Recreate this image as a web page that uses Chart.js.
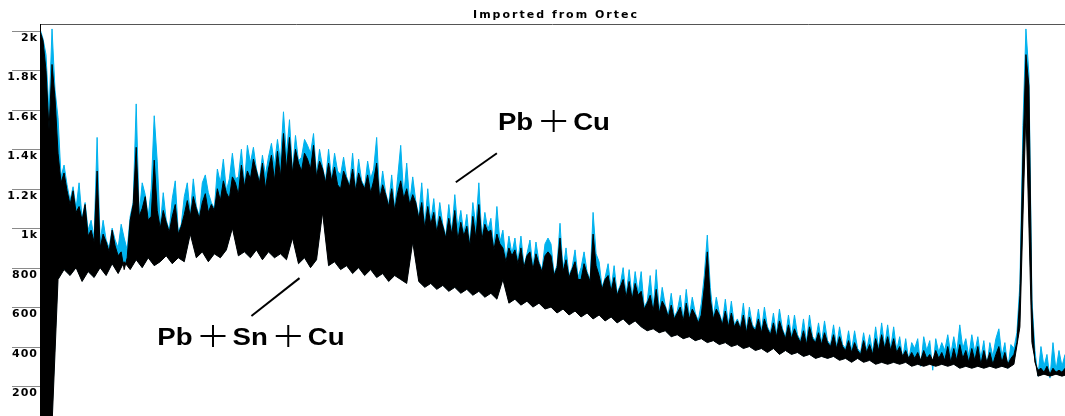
<!DOCTYPE html>
<html>
<head>
<meta charset="utf-8">
<title>Imported from Ortec</title>
<script src="https://cdn.jsdelivr.net/npm/chart.js@4.4.1/dist/chart.umd.min.js"></script>
<style>
  html, body { margin: 0; padding: 0; background: #fff; }
  #wrap { position: relative; width: 1065px; height: 416px; }
</style>
</head>
<body>
<div id="wrap"><canvas id="spectrum"></canvas></div>
<script>
// Spectrum values (counts).
// Top series are sampled every 3 channels, the lower edge of the black trace every 6.
const chartTitle = 'Imported from Ortec';

// Pb + Sn + Cu (black) - upper edge of the trace
const blackTop = [
  2000,1950,1800,1500,1830,1660,1380,1230,1280,1190,
  1120,1190,1080,1110,1040,1120,960,990,930,1290,
  900,970,930,880,990,910,860,880,790,850,
  1040,1120,1410,1060,1100,1160,1040,1060,1345,1090,
  1000,1090,1030,980,1060,1120,970,1010,1070,1140,
  1060,1160,1100,1050,1130,1175,1080,1120,1090,1200,
  1140,1240,1180,1150,1260,1230,1170,1320,1210,1290,
  1250,1350,1290,1230,1330,1200,1300,1370,1240,1390,
  1260,1480,1300,1460,1280,1400,1330,1290,1380,1350,
  1300,1420,1260,1340,1300,1230,1330,1240,1310,1220,
  1200,1290,1250,1210,1300,1190,1280,1230,1200,1270,
  1180,1240,1330,1150,1220,1170,1110,1200,1090,1180,
  1240,1150,1200,1120,1170,1130,1050,1130,1000,1110,
  1020,1080,980,1060,1010,950,1050,970,1090,940,
  1030,960,1010,910,1060,950,1120,940,1020,980,
  990,890,970,920,900,830,900,860,890,820,
  900,800,860,880,790,870,820,780,860,880,
  860,760,800,950,780,840,750,790,830,740,
  740,820,770,730,970,810,760,690,740,760,
  680,750,660,700,740,650,730,640,720,660,
  680,590,620,660,580,690,570,630,600,550,
  610,540,570,600,530,620,540,590,560,520,
  560,700,880,640,540,590,560,510,580,500,
  570,500,530,490,560,470,550,500,480,540,
  470,540,490,460,520,450,530,480,440,510,
  440,490,450,420,480,410,500,440,420,470,
  410,470,420,400,460,390,450,400,380,430,
  370,420,380,360,430,370,410,360,440,380,
  460,390,450,380,440,370,400,350,380,340,
  370,340,370,330,380,340,360,330,380,340,
  370,330,400,320,390,330,410,340,380,320,
  390,330,400,310,380,320,370,310,360,400,
  320,370,310,340,360,420,660,1380,1880,1720,
  600,320,280,290,270,300,260,290,270,280,
  270,290
];

// Pb + Sn + Cu (black) - lower edge of the trace
const blackFloor = [
  0,0,0,740,790,760,800,730,780,750,
  800,760,820,770,830,790,840,800,850,810,
  830,860,820,850,830,970,850,880,830,870,
  850,890,1000,860,880,850,890,840,880,850,
  870,840,950,820,850,800,840,1080,810,830,
  790,810,770,800,760,790,750,770,730,760,
  740,720,930,730,700,720,690,710,680,700,
  670,690,660,680,650,670,640,740,620,640,
  610,630,600,620,590,600,570,590,560,580,
  550,570,540,560,530,550,520,540,510,530,
  500,480,490,470,480,450,460,440,450,430,
  440,420,430,410,420,400,410,390,400,380,
  390,370,390,360,380,360,370,350,360,340,
  350,340,350,330,340,320,340,320,330,310,
  320,310,320,310,320,300,310,300,310,300,
  310,300,310,290,300,290,300,290,300,290,
  300,290,310,500,1600,420,250,260,250,260,
  250,260
];

// Pb + Cu (blue) - upper edge of the trace
const blueTop = [
  2010,1960,1880,1580,2010,1700,1560,1260,1320,1220,
  1140,1210,1100,1230,1050,1130,990,1040,950,1460,
  930,1040,940,900,1000,940,900,1020,950,890,
  1060,1130,1630,1070,1230,1170,1060,1200,1570,1340,
  1010,1180,1040,990,1150,1240,980,1020,1160,1230,
  1070,1250,1110,1060,1230,1270,1180,1130,1100,1300,
  1230,1350,1190,1250,1380,1250,1260,1400,1220,1420,
  1330,1410,1300,1240,1370,1270,1360,1430,1320,1450,
  1340,1590,1370,1550,1290,1470,1340,1360,1450,1420,
  1380,1480,1270,1400,1310,1240,1400,1250,1380,1290,
  1270,1360,1260,1220,1380,1200,1350,1240,1210,1340,
  1250,1300,1460,1160,1290,1180,1120,1270,1100,1260,
  1420,1160,1330,1130,1260,1140,1060,1230,1010,1200,
  1030,1150,990,1130,1020,960,1120,980,1170,1000,
  1090,970,1070,920,1130,1010,1230,950,1080,990,
  1050,900,1110,930,990,840,960,870,950,830,
  960,810,870,940,800,930,830,790,920,950,
  920,770,810,1025,790,900,760,800,890,750,
  800,880,780,740,1080,870,830,700,750,820,
  690,810,670,710,800,660,790,650,780,670,
  780,600,630,760,590,790,580,700,610,560,
  670,550,580,660,540,690,550,650,570,530,
  620,760,965,700,550,650,570,520,640,510,
  630,510,540,500,620,480,600,510,490,590,
  480,600,500,470,570,460,590,490,450,560,
  450,560,460,430,540,420,560,450,430,520,
  420,530,430,410,510,400,500,410,390,480,
  380,480,390,370,470,380,460,370,500,390,
  520,400,510,390,500,380,450,340,440,330,
  420,390,440,300,450,380,430,280,440,370,
  420,380,460,360,450,370,510,390,440,350,
  460,370,450,340,430,300,420,350,440,490,
  350,420,290,410,390,470,720,1520,2010,1780,
  640,380,250,400,300,360,240,420,280,380,
  300,360
];

// y axis ticks
const yTickValues = [2000, 1800, 1600, 1400, 1200, 1000, 800, 600, 400, 200];
const yTickLabels = ['2k', '1.8k', '1.6k', '1.4k', '1.2k', '1k', '800', '600', '400', '200'];

// annotations: text, anchor (channel, counts), leader line (channel, counts)
const noteTexts = ['Pb＋Cu', 'Pb＋Sn＋Cu'];
const noteAnchors = [[457, 1498], [117, 408]];
const noteLeaders = [[[415, 1233], [456, 1380]], [[211, 555], [259, 747]]];

const TOP_STEP = 3;
const FLOOR_STEP = 6;
const BLUE = '#00b2ee';

function toPoints(values, step) {
    return values.map((v, i) => ({ x: i * step, y: v }));
}

// letters bold and slightly stretched, the plus signs as thin strokes
function drawNote(ctx, text, x, y) {
    const stretch = 1.15;
    const parts = text.split('＋');
    ctx.font = 'bold 24px "Liberation Sans", Arial, sans-serif';
    ctx.letterSpacing = '0px';
    ctx.lineWidth = 2;
    parts.forEach((part, i) => {
        ctx.save();
        ctx.translate(x, y);
        ctx.scale(stretch, 1);
        ctx.fillText(part, 0, 0);
        ctx.restore();
        x += ctx.measureText(part).width * stretch;
        if (i < parts.length - 1) {
            x += 8;
            const cy = y - 9;
            ctx.beginPath();
            ctx.moveTo(x, cy);
            ctx.lineTo(x + 25, cy);
            ctx.moveTo(x + 12.5, cy - 11);
            ctx.lineTo(x + 12.5, cy + 11);
            ctx.stroke();
            x += 25 + 7;
        }
    });
}

const decorations = {
    id: 'decorations',
    afterDraw(chart) {
        const ctx = chart.ctx;
        const area = chart.chartArea;
        const xs = chart.scales.x;
        const ys = chart.scales.y;
        ctx.save();

        // frame
        ctx.lineWidth = 1;
        ctx.strokeStyle = '#555';
        ctx.beginPath();
        ctx.moveTo(area.left, area.top + 0.5);
        ctx.lineTo(area.right, area.top + 0.5);
        ctx.stroke();
        ctx.strokeStyle = '#000';
        ctx.beginPath();
        ctx.moveTo(area.left + 0.5, area.top);
        ctx.lineTo(area.left + 0.5, area.bottom);
        ctx.stroke();

        // y ticks: grey mark with the label just below it
        ctx.fillStyle = '#000';
        ctx.font = 'bold 11px "DejaVu Sans", sans-serif';
        ctx.letterSpacing = '1px';
        ctx.textAlign = 'right';
        ctx.textBaseline = 'top';
        yTickValues.forEach((v, i) => {
            const y = Math.round(ys.getPixelForValue(v)) + 0.5;
            ctx.strokeStyle = '#8a8a8a';
            ctx.beginPath();
            ctx.moveTo(12, y);
            ctx.lineTo(area.left, y);
            ctx.stroke();
            ctx.fillText(yTickLabels[i], area.left - 2, y + 1.5);
        });

        // title
        ctx.textAlign = 'center';
        ctx.textBaseline = 'alphabetic';
        ctx.font = 'bold 11px "DejaVu Sans", sans-serif';
        ctx.letterSpacing = '2px';
        ctx.fillText(chartTitle, 556, 18);

        // annotations
        ctx.textAlign = 'left';
        ctx.strokeStyle = '#000';
        noteTexts.forEach((text, i) => {
            const [a, b] = noteLeaders[i];
            ctx.lineWidth = 2;
            ctx.beginPath();
            ctx.moveTo(xs.getPixelForValue(a[0]), ys.getPixelForValue(a[1]));
            ctx.lineTo(xs.getPixelForValue(b[0]), ys.getPixelForValue(b[1]));
            ctx.stroke();
            drawNote(ctx, text,
                xs.getPixelForValue(noteAnchors[i][0]),
                ys.getPixelForValue(noteAnchors[i][1]));
        });
        ctx.restore();
    }
};

new Chart(document.getElementById('spectrum'), {
    type: 'line',
    data: {
        datasets: [
            {
                label: 'Pb+Sn+Cu',
                data: toPoints(blackTop, TOP_STEP),
                borderColor: '#000',
                backgroundColor: '#000',
                borderWidth: 1,
                fill: 1
            },
            {
                label: 'Pb+Sn+Cu (lower edge)',
                data: toPoints(blackFloor, FLOOR_STEP),
                borderColor: '#000',
                borderWidth: 1,
                fill: false
            },
            {
                label: 'Pb+Cu',
                data: toPoints(blueTop, TOP_STEP),
                borderColor: BLUE,
                backgroundColor: BLUE,
                borderWidth: 1,
                fill: 1
            }
        ]
    },
    options: {
        responsive: true,
        maintainAspectRatio: false,
        animation: false,
        layout: { padding: { left: 40, top: 24, right: 0, bottom: 0 } },
        elements: {
            point: { radius: 0 },
            line: { tension: 0 }
        },
        scales: {
            x: { type: 'linear', display: false, min: 0, max: 1023 },
            y: { display: false, min: 48, max: 2035 }
        },
        plugins: {
            legend: { display: false },
            tooltip: { enabled: false }
        }
    },
    plugins: [decorations]
});
</script>
</body>
</html>
